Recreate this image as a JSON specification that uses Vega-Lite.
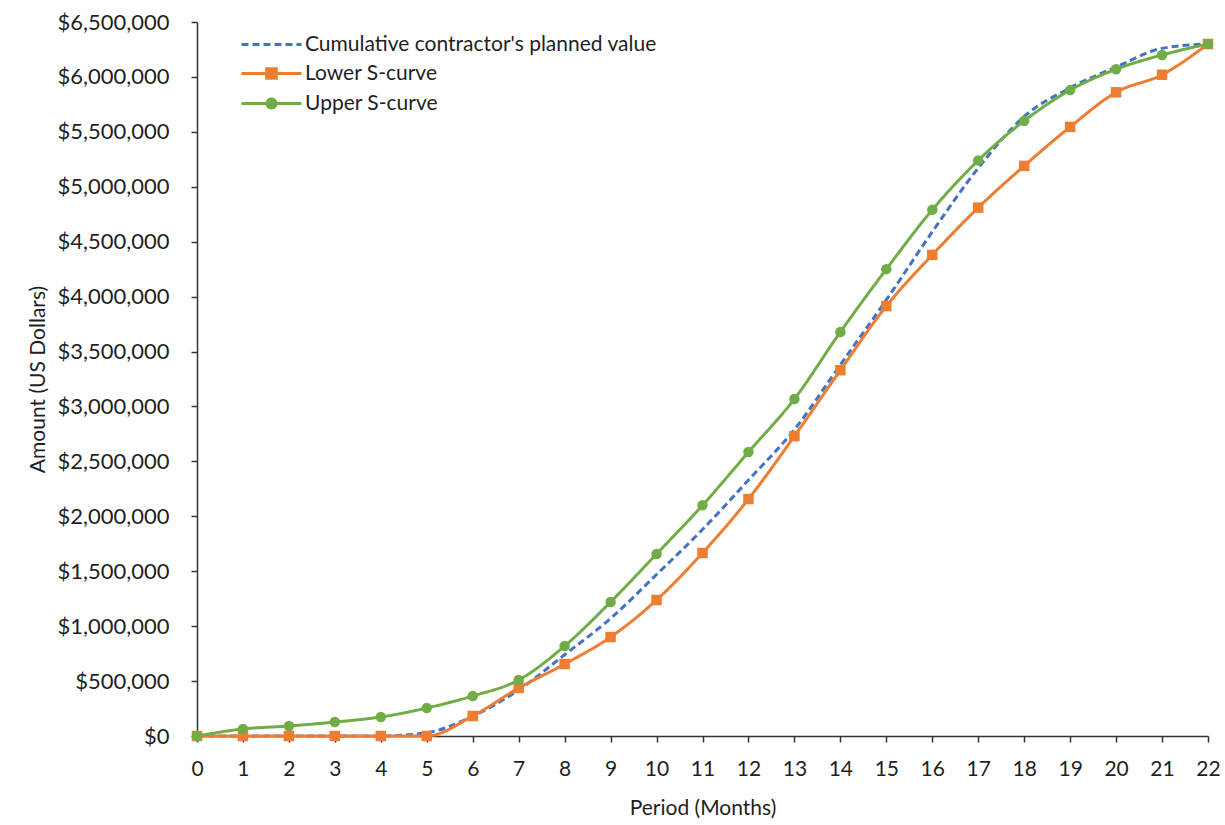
{
  "$schema": "https://vega.github.io/schema/vega-lite/v6.json",
  "width": 1011,
  "height": 714,
  "autosize": "none",
  "padding": {"left": 197, "top": 22, "right": 17, "bottom": 89},
  "background": "white",
  "config": {
    "view": {"stroke": null},
    "font": "Lato",
    "axis": {"labelColor": "#1f1f1f", "titleColor": "#1f1f1f", "domainColor": "#333333", "tickColor": "#333333", "grid": false, "labelFontSize": 21, "titleFontSize": 21, "titleFontWeight": "normal", "domainWidth": 1.5, "tickWidth": 1.5, "labelFont": "Lato", "titleFont": "Lato"}
  },
  "datasets": {
    "s": [
      {"period": 0, "series": "Cumulative contractor's planned value", "amount": 0},
      {"period": 1, "series": "Cumulative contractor's planned value", "amount": 0},
      {"period": 2, "series": "Cumulative contractor's planned value", "amount": 0},
      {"period": 3, "series": "Cumulative contractor's planned value", "amount": 0},
      {"period": 4, "series": "Cumulative contractor's planned value", "amount": 0},
      {"period": 5, "series": "Cumulative contractor's planned value", "amount": 30000},
      {"period": 6, "series": "Cumulative contractor's planned value", "amount": 180000},
      {"period": 7, "series": "Cumulative contractor's planned value", "amount": 420000},
      {"period": 8, "series": "Cumulative contractor's planned value", "amount": 740000},
      {"period": 9, "series": "Cumulative contractor's planned value", "amount": 1070000},
      {"period": 10, "series": "Cumulative contractor's planned value", "amount": 1470000},
      {"period": 11, "series": "Cumulative contractor's planned value", "amount": 1880000},
      {"period": 12, "series": "Cumulative contractor's planned value", "amount": 2330000},
      {"period": 13, "series": "Cumulative contractor's planned value", "amount": 2790000},
      {"period": 14, "series": "Cumulative contractor's planned value", "amount": 3380000},
      {"period": 15, "series": "Cumulative contractor's planned value", "amount": 3970000},
      {"period": 16, "series": "Cumulative contractor's planned value", "amount": 4590000},
      {"period": 17, "series": "Cumulative contractor's planned value", "amount": 5170000},
      {"period": 18, "series": "Cumulative contractor's planned value", "amount": 5640000},
      {"period": 19, "series": "Cumulative contractor's planned value", "amount": 5900000},
      {"period": 20, "series": "Cumulative contractor's planned value", "amount": 6090000},
      {"period": 21, "series": "Cumulative contractor's planned value", "amount": 6260000},
      {"period": 22, "series": "Cumulative contractor's planned value", "amount": 6300000},
      {"period": 0, "series": "Lower S-curve", "amount": 0},
      {"period": 1, "series": "Lower S-curve", "amount": 0},
      {"period": 2, "series": "Lower S-curve", "amount": 0},
      {"period": 3, "series": "Lower S-curve", "amount": 0},
      {"period": 4, "series": "Lower S-curve", "amount": 0},
      {"period": 5, "series": "Lower S-curve", "amount": 0},
      {"period": 6, "series": "Lower S-curve", "amount": 182000},
      {"period": 7, "series": "Lower S-curve", "amount": 437000},
      {"period": 8, "series": "Lower S-curve", "amount": 655000},
      {"period": 9, "series": "Lower S-curve", "amount": 901000},
      {"period": 10, "series": "Lower S-curve", "amount": 1238000},
      {"period": 11, "series": "Lower S-curve", "amount": 1666000},
      {"period": 12, "series": "Lower S-curve", "amount": 2157000},
      {"period": 13, "series": "Lower S-curve", "amount": 2730000},
      {"period": 14, "series": "Lower S-curve", "amount": 3330000},
      {"period": 15, "series": "Lower S-curve", "amount": 3914000},
      {"period": 16, "series": "Lower S-curve", "amount": 4380000},
      {"period": 17, "series": "Lower S-curve", "amount": 4810000},
      {"period": 18, "series": "Lower S-curve", "amount": 5190000},
      {"period": 19, "series": "Lower S-curve", "amount": 5545000},
      {"period": 20, "series": "Lower S-curve", "amount": 5860000},
      {"period": 21, "series": "Lower S-curve", "amount": 6020000},
      {"period": 22, "series": "Lower S-curve", "amount": 6300000},
      {"period": 0, "series": "Upper S-curve", "amount": 0},
      {"period": 1, "series": "Upper S-curve", "amount": 64000},
      {"period": 2, "series": "Upper S-curve", "amount": 91000},
      {"period": 3, "series": "Upper S-curve", "amount": 127000},
      {"period": 4, "series": "Upper S-curve", "amount": 173000},
      {"period": 5, "series": "Upper S-curve", "amount": 255000},
      {"period": 6, "series": "Upper S-curve", "amount": 364000},
      {"period": 7, "series": "Upper S-curve", "amount": 510000},
      {"period": 8, "series": "Upper S-curve", "amount": 819000},
      {"period": 9, "series": "Upper S-curve", "amount": 1220000},
      {"period": 10, "series": "Upper S-curve", "amount": 1657000},
      {"period": 11, "series": "Upper S-curve", "amount": 2100000},
      {"period": 12, "series": "Upper S-curve", "amount": 2585000},
      {"period": 13, "series": "Upper S-curve", "amount": 3068000},
      {"period": 14, "series": "Upper S-curve", "amount": 3678000},
      {"period": 15, "series": "Upper S-curve", "amount": 4250000},
      {"period": 16, "series": "Upper S-curve", "amount": 4790000},
      {"period": 17, "series": "Upper S-curve", "amount": 5240000},
      {"period": 18, "series": "Upper S-curve", "amount": 5600000},
      {"period": 19, "series": "Upper S-curve", "amount": 5880000},
      {"period": 20, "series": "Upper S-curve", "amount": 6070000},
      {"period": 21, "series": "Upper S-curve", "amount": 6200000},
      {"period": 22, "series": "Upper S-curve", "amount": 6300000}
    ]
  },
  "data": {"name": "s"},
  "encoding": {
    "x": {"field": "period", "type": "quantitative", "scale": {"domain": [0, 22], "nice": false},
      "axis": {"values": [0,1,2,3,4,5,6,7,8,9,10,11,12,13,14,15,16,17,18,19,20,21,22], "title": "Period (Months)", "labelFlush": false, "labelPadding": 16, "titlePadding": 18, "tickSize": 6}},
    "y": {"field": "amount", "type": "quantitative", "scale": {"domain": [0, 6500000], "nice": false},
      "axis": {"values": [0,500000,1000000,1500000,2000000,2500000,3000000,3500000,4000000,4500000,5000000,5500000,6000000,6500000], "format": "$,.0f", "title": "Amount  (US Dollars)", "labelFlush": false, "labelFontSize": 22, "labelPadding": 22, "titlePadding": 8, "tickSize": 6}}
  },
  "layer": [
    {
      "mark": {"type": "line", "interpolate": "monotone", "strokeWidth": 3},
      "encoding": {
        "color": {"field": "series", "type": "nominal", "scale": {"domain": ["Cumulative contractor's planned value", "Lower S-curve", "Upper S-curve"], "range": ["#4472C4", "#ED7D31", "#70AD47"]},
          "legend": {"orient": "none", "legendX": 58, "legendY": 6, "title": null, "labelFontSize": 21, "labelFont": "Lato", "labelColor": "#1f1f1f", "labelLimit": 600, "symbolType": "M-2,0H2", "symbolSize": 900, "symbolStrokeWidth": 3, "rowPadding": 2, "labelOffset": 17,
            "encode": {"symbols": {"update": {
              "shape": {"signal": "datum.value === 'Lower S-curve' ? 'M-2,0H2M-0.32,-0.32H0.32V0.32H-0.32Z' : datum.value === 'Upper S-curve' ? 'M-2,0H2M0.3,0A0.3,0.3 0 1,1 -0.3,0A0.3,0.3 0 1,1 0.3,0Z' : 'M-2,0H2'"},
              "fill": {"scale": "color", "field": "value"}
            }}}}},
        "strokeDash": {"field": "series", "type": "nominal", "scale": {"domain": ["Cumulative contractor's planned value", "Lower S-curve", "Upper S-curve"], "range": [[7, 4], [1, 0], [1, 0]]}}
      }
    },
    {
      "transform": [{"filter": "datum.series !== \"Cumulative contractor's planned value\""}],
      "mark": {"type": "point", "filled": true, "opacity": 1, "size": 110},
      "encoding": {
        "color": {"field": "series", "type": "nominal", "legend": null},
        "shape": {"field": "series", "type": "nominal", "scale": {"domain": ["Lower S-curve", "Upper S-curve"], "range": ["square", "circle"]}, "legend": null}
      }
    }
  ]
}
